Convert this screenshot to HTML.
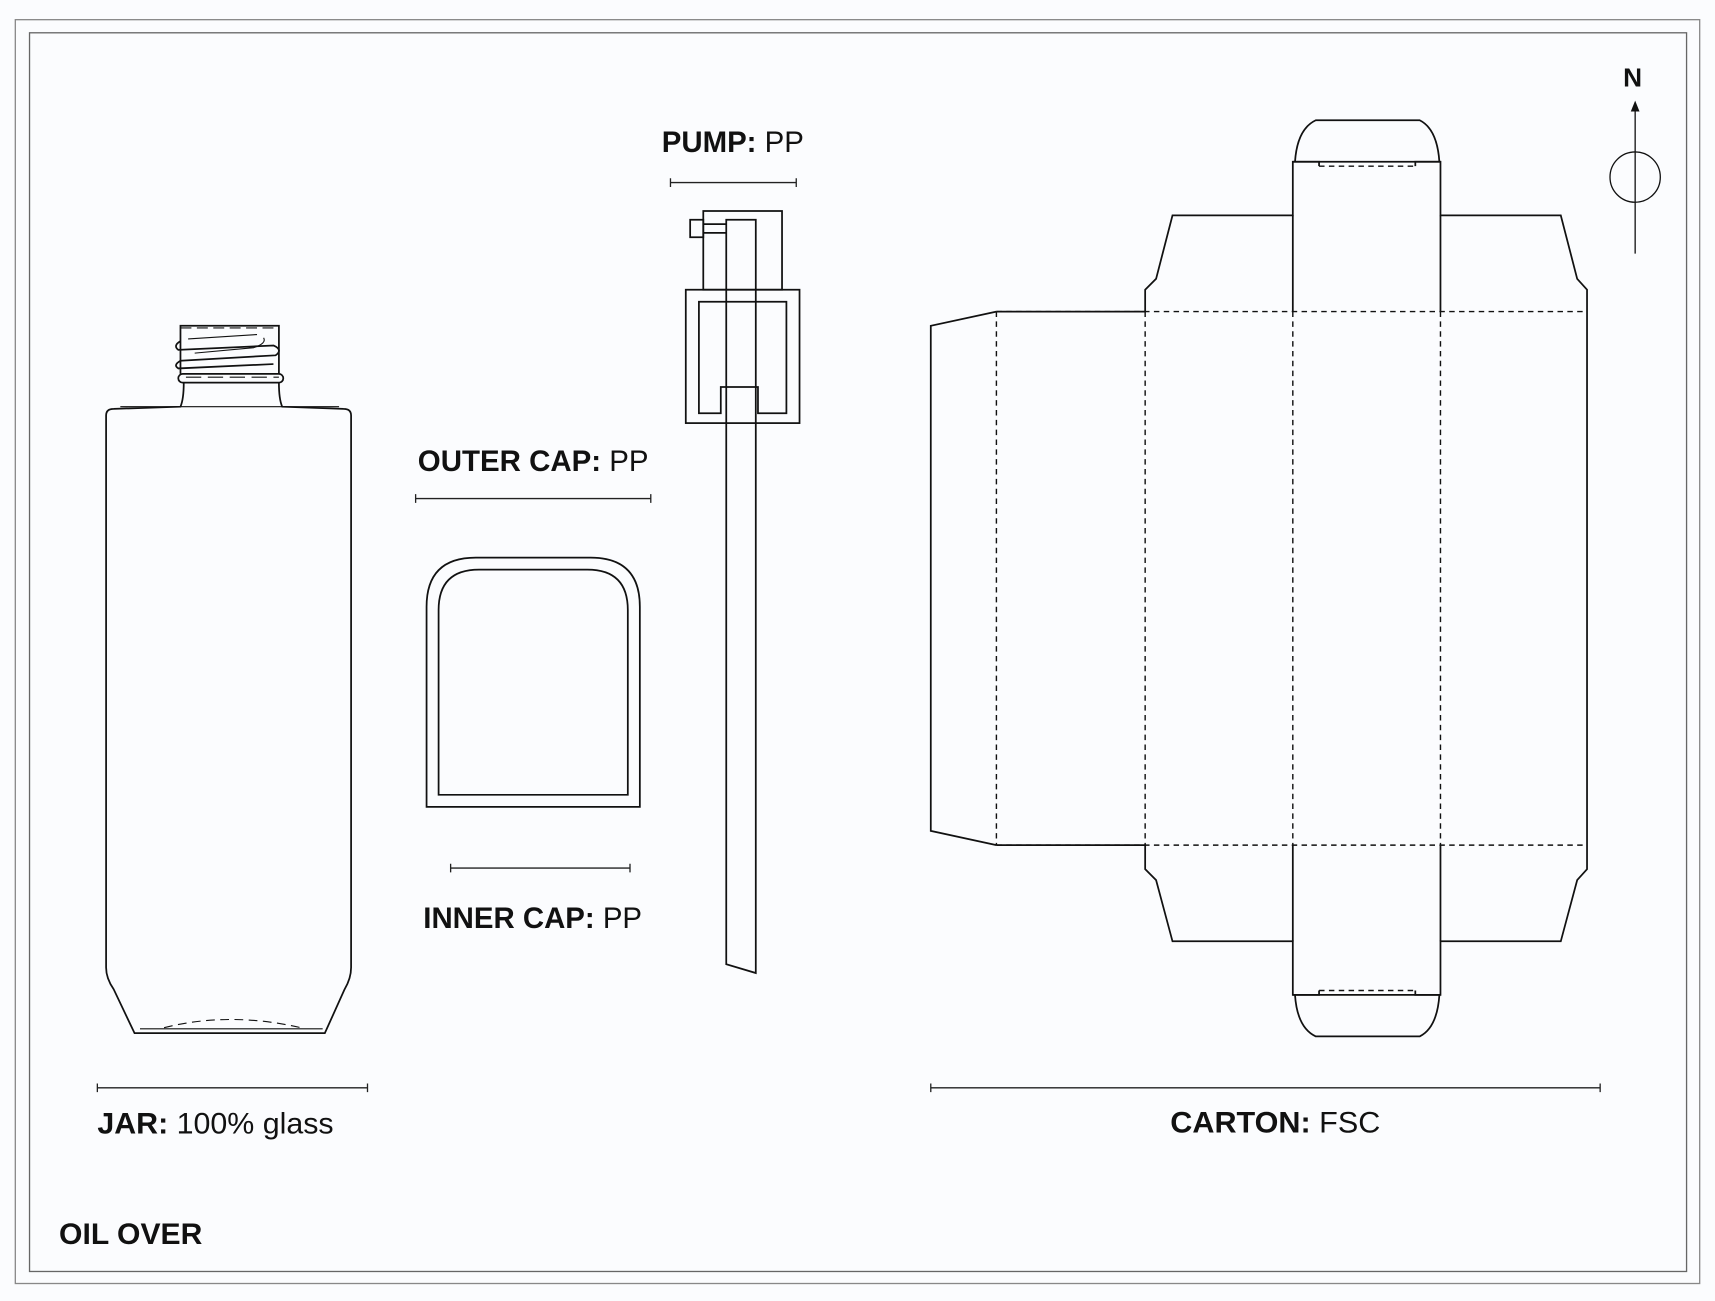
<!DOCTYPE html>
<html><head><meta charset="utf-8"><style>
html,body{margin:0;padding:0;background:#fbfcfe;}
svg{display:block}
text{font-family:"Liberation Sans",sans-serif;fill:#111;}
</style></head><body>
<svg width="1715" height="1301" viewBox="0 0 1568 1190" preserveAspectRatio="none" xmlns="http://www.w3.org/2000/svg">
<rect x="0" y="0" width="1568" height="1190" fill="#fbfcfe"/>
<rect x="14" y="18" width="1540" height="1156" fill="none" stroke="#888" stroke-width="1.2"/>
<rect x="27" y="30" width="1515" height="1133" fill="none" stroke="#666" stroke-width="1.2"/>
<g fill="none" stroke="#111" stroke-width="1.6">
<!-- jar -->
<path d="M168,350 Q168,365 165,372 L104,374 Q97,374 97,380 L97,885 Q97,895 104,905 L123,945 L297,945 L315,905 Q321,895 321,885 L321,380 Q321,374 314,374 L258,372 Q255,365 255,350"/>
<path d="M110,372 L310,372" stroke-width="1"/>
<rect x="163" y="342" width="96" height="8" rx="4"/>
<path d="M165,342 L165,298 L255,298 L255,342"/>
<path d="M165,300 L255,300" stroke-dasharray="10,5" stroke-width="1"/>
<path d="M165,312 Q158,316 163,320 L250,316 Q259,320 252,325 L165,330 Q158,334 163,337 L250,333"/>
<path d="M172,310 L235,306 M178,323 L232,318 Q244,314 241,309" stroke-width="1"/>
<path d="M170,345 L255,345" stroke-dasharray="14,6" stroke-width="1"/>
<path d="M150,940 Q210,925 275,940" stroke-dasharray="8,5" stroke-width="1"/>
<path d="M128,941 L295,941" stroke-width="1"/>
<!-- outer/inner cap -->
<path d="M390,738 L390,555 Q390,510 435,510 L540,510 Q585,510 585,555 L585,738 Z"/>
<path d="M401,727 L401,558 Q401,521 438,521 L537,521 Q574,521 574,558 L574,727 Z"/>
<!-- pump -->
<rect x="643" y="193" width="72" height="72"/>
<rect x="631" y="201" width="12" height="16"/>
<path d="M643,205 L664,205 M643,213 L664,213"/>
<path d="M664,201 L691,201 L691,890 L664,882 Z"/>
<rect x="627" y="265" width="104" height="122"/>
<path d="M659,378 L639,378 L639,276 L719,276 L719,378 L693,378 L693,354 L659,354 Z"/>
<!-- carton -->
<path d="M911,285 L851,298 L851,760 L911,773"/>
<path d="M911,285 L1047,285 L1047,265 L1057,255 L1072,197 L1182,197 L1182,148 L1317,148 L1317,197 L1427,197 L1442,255 L1451,265 L1451,795 L1442,805 L1427,861 L1317,861 L1317,910 L1182,910 L1182,861 L1072,861 L1057,805 L1047,795 L1047,773 L911,773"/>
<path d="M1182,197 L1182,285 M1317,197 L1317,285 M1182,773 L1182,861 M1317,773 L1317,861"/>
<path d="M1182,148 L1206,148 L1206,152 M1317,148 L1294,148 L1294,152"/>
<path d="M1184,148 Q1186,118 1203,110 L1298,110 Q1314,118 1316,148"/>
<path d="M1182,910 L1206,910 L1206,906 M1317,910 L1294,910 L1294,906"/>
<path d="M1184,910 Q1186,940 1203,948 L1298,948 Q1314,940 1316,910"/>
<g stroke-dasharray="5,4" stroke-width="1.3">
<path d="M1206,152 L1294,152 M1206,906 L1294,906"/>
<path d="M911,285 L1451,285 M911,773 L1451,773"/>
<path d="M911,285 L911,773 M1047,285 L1047,773 M1182,285 L1182,773 M1317,285 L1317,773"/>
</g>
<!-- compass -->
<circle cx="1495" cy="162" r="23" stroke-width="1.2"/>
<path d="M1495,232 L1495,98" stroke-width="1.2"/>
</g>
<path d="M1495,92 L1491,102 L1499,102 Z" fill="#111"/>
<!-- dimension lines -->
<g stroke="#222" stroke-width="1.2">
<path d="M613,167 L728,167 M613,163 L613,171 M728,163 L728,171"/>
<path d="M380,456 L595,456 M380,452 L380,460 M595,452 L595,460"/>
<path d="M412,794 L576,794 M412,790 L412,798 M576,790 L576,798"/>
<path d="M89,995 L336,995 M89,991 L89,999 M336,991 L336,999"/>
<path d="M851,995 L1463,995 M851,991 L851,999 M1463,991 L1463,999"/>
</g>
<g font-size="27">
<text x="605" y="139" textLength="130" lengthAdjust="spacingAndGlyphs"><tspan font-weight="bold">PUMP:</tspan> PP</text>
<text x="382" y="431" textLength="211" lengthAdjust="spacingAndGlyphs"><tspan font-weight="bold">OUTER CAP:</tspan> PP</text>
<text x="387" y="849" textLength="200" lengthAdjust="spacingAndGlyphs"><tspan font-weight="bold">INNER CAP:</tspan> PP</text>
<text x="89" y="1037" textLength="216" lengthAdjust="spacingAndGlyphs"><tspan font-weight="bold">JAR:</tspan> 100% glass</text>
<text x="1070" y="1036" textLength="192" lengthAdjust="spacingAndGlyphs"><tspan font-weight="bold">CARTON:</tspan> FSC</text>
<text x="54" y="1138" font-weight="bold" textLength="131" lengthAdjust="spacingAndGlyphs">OIL OVER</text>
<text x="1484" y="79" font-weight="bold" font-size="24">N</text>
</g>
</svg>
</body></html>
